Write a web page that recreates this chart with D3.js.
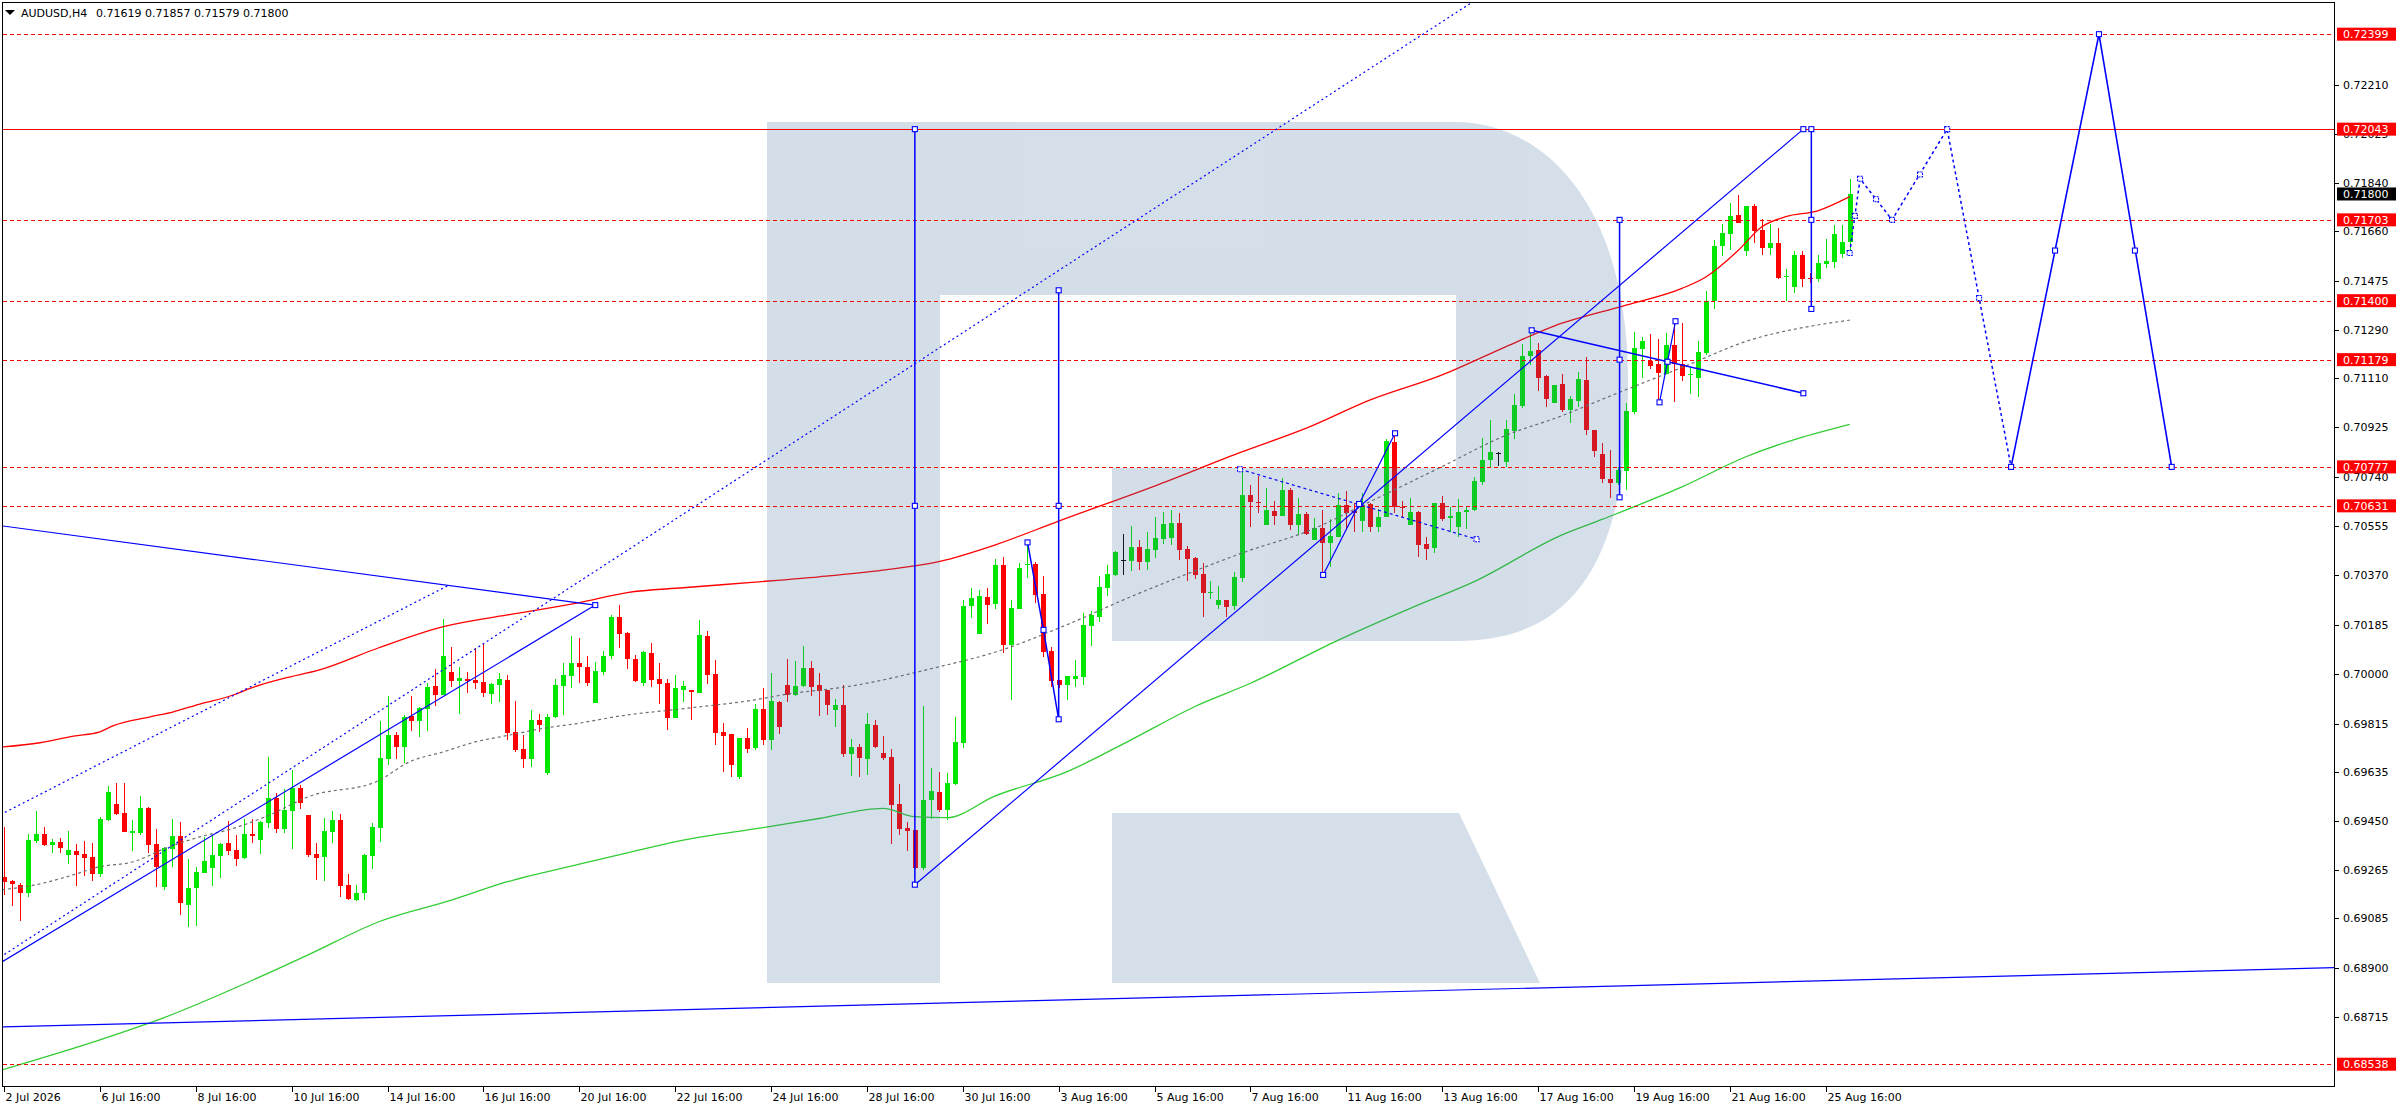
<!DOCTYPE html>
<html><head><meta charset="utf-8">
<script src="https://cdn.jsdelivr.net/npm/d3@7"></script>
<style>body{margin:0;background:#fff;}svg{display:block;}text{font-family:"DejaVu Sans",Verdana,sans-serif;}</style>
</head><body><svg id="c" width="2396" height="1110"></svg>
<script>
// ---------------- DATA ----------------
const symbolTitle = "AUDUSD,H4";
const headerOHLC = "0.71619 0.71857 0.71579 0.71800";
const openVals=[0.69240,0.69224,0.69209,0.69178,0.69376,0.69401,0.69359,0.69371,0.69322,0.69337,
0.69326,0.69316,0.69251,0.69453,0.69513,0.69479,0.69406,0.69403,0.69499,0.69363,
0.69203,0.69343,0.69393,0.69134,0.69199,0.69256,0.69274,0.69319,0.69367,0.69341,
0.69312,0.69401,0.69378,0.69443,0.69536,0.69418,0.69488,0.69573,0.69472,0.69326,
0.69316,0.69409,0.69453,0.69209,0.69153,0.69178,0.69319,0.69424,0.69683,0.69772,
0.69728,0.69844,0.69824,0.69871,0.69956,0.69923,0.70008,0.69976,0.69982,0.69978,
0.69971,0.69927,0.69959,0.69978,0.69782,0.69719,0.69683,0.69827,0.69631,0.69838,
0.69957,0.69993,0.70041,0.70026,0.69893,0.70009,0.70067,0.70213,0.70153,0.70057,
0.69968,0.70079,0.69982,0.69967,0.69837,0.69942,0.69941,0.69931,0.70143,0.70001,
0.69783,0.69776,0.69613,0.69761,0.69724,0.69869,0.69754,0.69896,0.69959,0.69922,
0.69956,0.70023,0.69959,0.69941,0.69867,0.69884,0.69702,0.69726,0.69683,0.69809,
0.69704,0.69689,0.69513,0.69423,0.69416,0.69274,0.69528,0.69558,0.69491,0.69588,
0.69743,0.70256,0.70152,0.70289,0.70263,0.70409,0.70111,0.70246,0.70408,0.70414,
0.70301,0.70087,0.69977,0.69961,0.69982,0.69991,0.70181,0.70216,0.70324,0.70373,
0.70427,0.70424,0.70477,0.70421,0.70466,0.70508,0.70512,0.70566,0.70469,0.70436,
0.70376,0.70303,0.70261,0.70278,0.70256,0.70362,0.70672,0.70647,0.70559,0.70612,
0.70593,0.70691,0.70559,0.70601,0.70503,0.70548,0.70493,0.70516,0.70633,0.70611,
0.70576,0.70638,0.70553,0.70588,0.70869,0.70628,0.70559,0.70608,0.70487,0.70474,
0.70641,0.70587,0.70553,0.70607,0.70616,0.70722,0.70801,0.70828,0.70797,0.70913,
0.71006,0.71193,0.71216,0.71116,0.71018,0.71087,0.70992,0.71025,0.71102,0.70915,
0.70825,0.70733,0.70717,0.70762,0.70983,0.71218,0.71173,0.71162,0.71127,0.71233,
0.71162,0.71120,0.71112,0.71205,0.71400,0.71605,0.71650,0.71721,0.71587,0.71755,
0.71665,0.71598,0.71616,0.71487,0.71452,0.71573,0.71485,0.71480,0.71536,0.71546,
0.71576,0.71619];
const highVals=[0.69428,0.69228,0.69219,0.69401,0.69487,0.69428,0.69381,0.69386,0.69413,0.69363,
0.69374,0.69366,0.69463,0.69581,0.69592,0.69592,0.69453,0.69543,0.69501,0.69419,
0.69351,0.69457,0.69446,0.69307,0.69278,0.69391,0.69396,0.69368,0.69448,0.69397,
0.69459,0.69459,0.69449,0.69689,0.69553,0.69568,0.69641,0.69583,0.69472,0.69369,
0.69462,0.69487,0.69476,0.69251,0.69209,0.69326,0.69441,0.69824,0.69918,0.69783,
0.69847,0.69918,0.69878,0.69968,0.70018,0.70206,0.70101,0.70026,0.70008,0.70097,
0.70117,0.69968,0.70003,0.69996,0.69899,0.69771,0.69866,0.69851,0.69851,0.69983,
0.70042,0.70142,0.70136,0.70068,0.70044,0.70087,0.70223,0.70261,0.70159,0.70072,
0.70087,0.70117,0.70042,0.69981,0.69997,0.69974,0.69941,0.70203,0.70162,0.70053,
0.69818,0.69776,0.69761,0.69798,0.69888,0.69948,0.70004,0.69899,0.70057,0.70049,
0.70106,0.70049,0.70004,0.69941,0.69907,0.69959,0.69757,0.69738,0.69854,0.69828,
0.69768,0.69719,0.69588,0.69446,0.69416,0.69882,0.69648,0.69632,0.69628,0.69841,
0.70278,0.70323,0.70316,0.70323,0.70432,0.70439,0.70277,0.70418,0.70491,0.70421,
0.70368,0.70102,0.69978,0.69994,0.70053,0.70228,0.70237,0.70368,0.70409,0.70463,
0.70526,0.70556,0.70503,0.70533,0.70590,0.70609,0.70615,0.70603,0.70481,0.70441,
0.70417,0.70349,0.70332,0.70278,0.70382,0.70772,0.70709,0.70744,0.70697,0.70649,
0.70734,0.70697,0.70661,0.70607,0.70584,0.70616,0.70582,0.70678,0.70687,0.70643,
0.70681,0.70641,0.70619,0.70882,0.70897,0.70649,0.70659,0.70612,0.70513,0.70641,
0.70668,0.70628,0.70656,0.70628,0.70741,0.70887,0.70953,0.70834,0.70951,0.71051,
0.71238,0.71278,0.71241,0.71122,0.71084,0.71127,0.71042,0.71133,0.71190,0.70915,
0.70865,0.70840,0.70777,0.71017,0.71283,0.71265,0.71275,0.71256,0.71280,0.71322,
0.71317,0.71150,0.71248,0.71436,0.71627,0.71687,0.71767,0.71796,0.71755,0.71762,
0.71708,0.71687,0.71671,0.71518,0.71586,0.71586,0.71502,0.71573,0.71631,0.71683,
0.71683,0.71857];
const lowVals=[0.69172,0.69132,0.69076,0.69166,0.69366,0.69357,0.69331,0.69331,0.69288,0.69206,
0.69244,0.69226,0.69241,0.69449,0.69472,0.69409,0.69338,0.69397,0.69328,0.69203,
0.69191,0.69278,0.69098,0.69053,0.69057,0.69253,0.69206,0.69237,0.69322,0.69282,
0.69307,0.69368,0.69326,0.69422,0.69406,0.69406,0.69346,0.69493,0.69313,0.69228,
0.69226,0.69368,0.69166,0.69153,0.69151,0.69153,0.69268,0.69372,0.69661,0.69683,
0.69668,0.69788,0.69766,0.69788,0.69882,0.69921,0.69951,0.69852,0.69931,0.69943,
0.69913,0.69889,0.69897,0.69752,0.69708,0.69649,0.69653,0.69782,0.69623,0.69837,
0.69848,0.69949,0.69968,0.69957,0.69893,0.69998,0.70056,0.70098,0.70018,0.69972,
0.69957,0.69953,0.69888,0.69792,0.69837,0.69897,0.69828,0.69931,0.69964,0.69736,
0.69634,0.69613,0.69606,0.69703,0.69717,0.69736,0.69717,0.69777,0.69897,0.69919,
0.69953,0.69919,0.69844,0.69848,0.69803,0.69691,0.69619,0.69616,0.69623,0.69724,
0.69679,0.69364,0.69398,0.69338,0.69271,0.69266,0.69459,0.69483,0.69453,0.69584,
0.69723,0.70212,0.70152,0.70189,0.70246,0.70081,0.69903,0.70246,0.70362,0.70266,
0.70066,0.69953,0.69947,0.69903,0.69953,0.69959,0.70106,0.70196,0.70294,0.70368,
0.70372,0.70387,0.70391,0.70391,0.70437,0.70488,0.70484,0.70428,0.70349,0.70358,
0.70216,0.70282,0.70246,0.70213,0.70241,0.70347,0.70553,0.70603,0.70559,0.70558,
0.70593,0.70541,0.70522,0.70522,0.70503,0.70376,0.70403,0.70513,0.70541,0.70532,
0.70534,0.70534,0.70534,0.70588,0.70606,0.70591,0.70559,0.70441,0.70428,0.70453,
0.70576,0.70534,0.70516,0.70543,0.70613,0.70709,0.70778,0.70782,0.70778,0.70881,
0.70999,0.71159,0.71063,0.71001,0.71018,0.70983,0.70943,0.71002,0.70895,0.70815,
0.70715,0.70662,0.70708,0.70690,0.70977,0.71112,0.71143,0.71018,0.71127,0.71021,
0.71100,0.71050,0.71040,0.71196,0.71368,0.71567,0.71590,0.71690,0.71567,0.71615,
0.71571,0.71571,0.71480,0.71398,0.71427,0.71452,0.71465,0.71470,0.71523,0.71523,
0.71561,0.71579];
const closeVals=[0.69222,0.69212,0.69178,0.69378,0.69401,0.69359,0.69371,0.69349,0.69341,0.69322,
0.69312,0.69251,0.69458,0.69558,0.69476,0.69409,0.69412,0.69499,0.69359,0.69278,
0.69347,0.69393,0.69141,0.69197,0.69258,0.69299,0.69322,0.69363,0.69338,0.69308,
0.69401,0.69393,0.69446,0.69536,0.69418,0.69491,0.69573,0.69518,0.69322,0.69312,
0.69412,0.69453,0.69207,0.69157,0.69178,0.69322,0.69427,0.69686,0.69772,0.69728,
0.69841,0.69824,0.69873,0.69952,0.69923,0.70068,0.69976,0.69986,0.69976,0.69966,
0.69931,0.69962,0.69982,0.69781,0.69717,0.69683,0.69827,0.69811,0.69838,0.69959,
0.69996,0.70041,0.70026,0.69968,0.70012,0.70067,0.70213,0.70152,0.70058,0.69976,
0.70083,0.69979,0.69964,0.69837,0.69948,0.69956,0.69934,0.70147,0.69998,0.69781,
0.69769,0.69661,0.69761,0.69721,0.69869,0.69754,0.69899,0.69803,0.69922,0.69956,
0.70023,0.69953,0.69938,0.69886,0.69884,0.69702,0.69726,0.69687,0.69813,0.69728,
0.69687,0.69511,0.69421,0.69413,0.69274,0.69528,0.69562,0.69491,0.69591,0.69746,
0.70256,0.70284,0.70293,0.70261,0.70409,0.70111,0.70248,0.70398,0.70414,0.70298,
0.70083,0.69976,0.69961,0.69994,0.69994,0.70184,0.70221,0.70327,0.70376,0.70458,
0.70427,0.70477,0.70421,0.70468,0.70511,0.70563,0.70566,0.70466,0.70432,0.70373,
0.70306,0.70309,0.70278,0.70253,0.70364,0.70672,0.70647,0.70642,0.70616,0.70593,
0.70691,0.70559,0.70601,0.70526,0.70548,0.70493,0.70519,0.70633,0.70603,0.70606,
0.70634,0.70553,0.70588,0.70874,0.70626,0.70622,0.70608,0.70484,0.70471,0.70641,
0.70583,0.70593,0.70608,0.70616,0.70724,0.70803,0.70834,0.70828,0.70919,0.71009,
0.71193,0.71213,0.71112,0.71031,0.71084,0.70992,0.71030,0.71106,0.70917,0.70837,
0.70733,0.70717,0.70767,0.70987,0.71221,0.71248,0.71156,0.71130,0.71233,0.71162,
0.71118,0.71127,0.71207,0.71400,0.71605,0.71655,0.71717,0.71692,0.71755,0.71662,
0.71598,0.71615,0.71486,0.71492,0.71573,0.71481,0.71480,0.71540,0.71550,0.71650,
0.71620,0.71800];

// x-axis ticks (bar index and label)
const xTickBars=[0,12,24,36,48,60,72,84,96,108,120,132,144,156,168,180,192,204,216,228];
const xTickLabels=["2 Jul 2026","6 Jul 16:00","8 Jul 16:00","10 Jul 16:00","14 Jul 16:00","16 Jul 16:00","20 Jul 16:00","22 Jul 16:00","24 Jul 16:00","28 Jul 16:00","30 Jul 16:00","3 Aug 16:00","5 Aug 16:00","7 Aug 16:00","11 Aug 16:00","13 Aug 16:00","17 Aug 16:00","19 Aug 16:00","21 Aug 16:00","25 Aug 16:00"];
// price axis tick labels
const yTickLabels=["0.72210","0.72025","0.71840","0.71660","0.71475","0.71290","0.71110","0.70925","0.70740","0.70555","0.70370","0.70185","0.70000","0.69815","0.69635","0.69450","0.69265","0.69085","0.68900","0.68715"];
// horizontal levels
const levelValues=[0.72399,0.72043,0.71703,0.71400,0.71179,0.70777,0.70631,0.68538];
const levelSolid=[false,true,false,false,false,false,false,false];
const currentPrice=0.71800;

// moving averages [bar, value]
const maRed=[[-1,0.69725],[4.5,0.69743],[8.7,0.69768],[12,0.69784],[13.7,0.69807],[18.3,0.69840],[21.2,0.69859],[24.5,0.69888],[28.7,0.69922],[30.8,0.69947],[35,0.69984],[39.5,0.70016],[47,0.70100],[55,0.70178],[63,0.70222],[72,0.70268],[78,0.70306],[85,0.70324],[94,0.70345],[102,0.70365],[110,0.70390],[117,0.70422],[124,0.70484],[132,0.70574],[144,0.70705],[155,0.70834],[163,0.70922],[171,0.71028],[180,0.71122],[188,0.71228],[194,0.71305],[203,0.71383],[210,0.71446],[213,0.71489],[217,0.71587],[220,0.71677],[223,0.71715],[227,0.71737],[231,0.71790]];
const maGreen=[[-1,0.68510],[12,0.68629],[19,0.68701],[38,0.68947],[47,0.69073],[56,0.69153],[63,0.69222],[72,0.69288],[78,0.69330],[85,0.69378],[95,0.69425],[102,0.69459],[110,0.69497],[114,0.69466],[118,0.69462],[124,0.69543],[133,0.69634],[141,0.69753],[149,0.69878],[156,0.69966],[167,0.70128],[176,0.70247],[184,0.70347],[195,0.70522],[200,0.70580],[210,0.70702],[218,0.70815],[231,0.70936]];
const maGray=[[-1,0.69190],[3.7,0.69209],[7.8,0.69240],[12,0.69278],[16.2,0.69297],[20.4,0.69350],[24.5,0.69390],[28.7,0.69422],[32.9,0.69468],[38.3,0.69543],[46.6,0.69597],[50.8,0.69672],[55,0.69709],[59.1,0.69747],[63.3,0.69772],[67.5,0.69797],[71.7,0.69815],[77.5,0.69845],[85.4,0.69872],[93.8,0.69903],[98,0.69925],[106.3,0.69957],[116.5,0.70024],[124.2,0.70084],[132.6,0.70180],[141,0.70290],[149.3,0.70390],[155.5,0.70460],[163,0.70534],[171.4,0.70653],[179.7,0.70774],[188.1,0.70897],[194.2,0.70960],[201.8,0.71052],[210.2,0.71152],[218.5,0.71252],[226.8,0.71308],[231,0.71327]];

// drawn objects [bar, price]
const upperChannelDashed=[[-1,0.69465],[55.5,0.70331]];
const lowerChannelDashed=[[-1,0.68929],[185,0.72543]];
const lowerChannelSolid=[[-1,0.68908],[74,0.70259]];
const fallingLine1=[[-1,0.70559],[74,0.70259]];
const baseLine=[[-1,0.68677],[292,0.68900]];
const risingLine=[[114,0.69211],[225.2,0.72043]];
const vertical1=[[114,0.72043],[114,0.69211]];
const vertical2=[[132,0.71439],[132,0.69831]];
const vertical3=[[202.2,0.71703],[202.2,0.70663]];
const vertical4=[[226.2,0.72043],[226.2,0.71369]];
const zigzag1=[[128.1,0.70494],[130.1,0.70166],[132,0.69831]];
const zigzag2=[[165.1,0.70372],[174.1,0.70903]];
const zigzag3=[[207.2,0.71019],[209.2,0.71323]];
const fallingDashed=[[154.7,0.70768],[184.3,0.70506]];
const fallingLine2=[[191.2,0.71289],[225.2,0.71053]];
const forecastDotted=[[231,0.71579],[232.3,0.71857],[236.3,0.71703],[243.2,0.72043],[251.2,0.70777]];
const forecastSolid=[[251.2,0.70777],[262.2,0.72399],[271.3,0.70777]];
const solidMarkers=[[74,0.70259],[114,0.72043],[114,0.70631],[114,0.69211],[132,0.71439],[132,0.70631],[132,0.69831],[128.1,0.70494],[130.1,0.70166],[165.1,0.70372],[169.6,0.70638],[174.1,0.70903],[191.2,0.71289],[208.2,0.71171],[225.2,0.71053],[207.2,0.71019],[209.2,0.71323],[202.2,0.71703],[202.2,0.71179],[202.2,0.70663],[225.2,0.72043],[226.2,0.72043],[226.2,0.71703],[226.2,0.71369],[251.2,0.70777],[256.7,0.71588],[262.2,0.72399],[266.7,0.71588],[271.3,0.70777]];
const dashedMarkers=[[154.7,0.70768],[184.3,0.70506],[231,0.71579],[231.65,0.71718],[232.3,0.71857],[234.3,0.71780],[236.3,0.71703],[239.8,0.71873],[243.2,0.72043],[247.2,0.71410]];

// ---------------- DRAW ----------------
const W=2396,H=1110;
const plotR=2334.5, plotB=1086.5;
const svg=d3.select('#c');
svg.append('rect').attr('width',W).attr('height',H).attr('fill','#fff');
const x=d3.scaleLinear().domain([0,291]).range([4,4+7.99*291]);
const y=d3.scaleLinear().domain([0.68715,0.72210]).range([1017,84.6]);

svg.append('defs').append('clipPath').attr('id','pc').append('rect')
  .attr('x',3).attr('y',3).attr('width',plotR-3.5).attr('height',plotB-3.5);
const plot=svg.append('g').attr('clip-path','url(#pc)');

const BULL='#00e600', BEAR='#ff0000';
const bars=d3.range(openVals.length);
const col=i=>closeVals[i]>openVals[i]?BULL:(closeVals[i]<openVals[i]?BEAR:'#000');
const gC=plot.append('g').attr('shape-rendering','crispEdges');
gC.selectAll('line').data(bars).join('line')
  .attr('x1',i=>Math.round(x(i))+0.5).attr('x2',i=>Math.round(x(i))+0.5)
  .attr('y1',i=>y(highVals[i])).attr('y2',i=>y(lowVals[i]))
  .attr('stroke',col).attr('stroke-width',1);
gC.selectAll('rect').data(bars).join('rect')
  .attr('x',i=>Math.round(x(i))-2).attr('width',5)
  .attr('y',i=>y(Math.max(openVals[i],closeVals[i])))
  .attr('height',i=>Math.max(1,Math.abs(y(openVals[i])-y(closeVals[i]))))
  .attr('fill',col);

// moving averages
const ln=d3.line().x(d=>x(d[0])).y(d=>y(d[1])).curve(d3.curveMonotoneX);
plot.append('path').datum(maGreen).attr('d',ln).attr('fill','none').attr('stroke','#32cd32').attr('stroke-width',1.3);
plot.append('path').datum(maGray).attr('d',ln).attr('fill','none').attr('stroke','#6e6e6e').attr('stroke-width',1.2).attr('stroke-dasharray','3,3');
plot.append('path').datum(maRed).attr('d',ln).attr('fill','none').attr('stroke','#ff0000').attr('stroke-width',1.3);

// watermark logo (semi-transparent overlay)
const logo=plot.append('g').attr('opacity',0.22).attr('fill','rgb(64,110,159)');
logo.append('rect').attr('x',767).attr('y',122).attr('width',173).attr('height',861);
logo.append('rect').attr('x',940).attr('y',122).attr('width',517).attr('height',173);
logo.append('rect').attr('x',1112).attr('y',468).attr('width',345).attr('height',173);
logo.append('path').attr('d','M1456,122 C1540,122 1628,200 1628,381 C1628,560 1575,641 1456,641 Z');
logo.append('path').attr('d','M1112,813 L1459,813 L1540,983 L1112,983 Z');

// horizontal levels
const gL=plot.append('g').attr('shape-rendering','crispEdges');
levelValues.forEach((v,k)=>{
  const yy=Math.round(y(v))+0.5;
  gL.append('line').attr('x1',3).attr('x2',plotR).attr('y1',yy).attr('y2',yy)
    .attr('stroke','#ff0000').attr('stroke-width',1)
    .attr('stroke-dasharray',levelSolid[k]?null:'4,3');
});

// blue objects
const lnL=d3.line().x(d=>x(d[0])).y(d=>y(d[1]));
const BLUE='#0000ff';
function obj(pts,dash,w){plot.append('path').datum(pts).attr('d',lnL).attr('fill','none')
  .attr('stroke',BLUE).attr('stroke-width',w||1.2).attr('stroke-dasharray',dash||null);}
obj(upperChannelDashed,'2,3');
obj(lowerChannelDashed,'2,3');
obj(lowerChannelSolid);
obj(fallingLine1);
obj(baseLine);
obj(risingLine);
obj(vertical1,null,1.5);obj(vertical2,null,1.5);obj(vertical3,null,1.5);obj(vertical4,null,1.5);
obj(zigzag1,null,1.5);obj(zigzag2);obj(zigzag3);
obj(fallingDashed,'3,3');
obj(fallingLine2,null,1.5);
obj(forecastDotted,'3,3',1.5);
obj(forecastSolid,null,1.6);
function marks(pts,dash){plot.append('g').selectAll('rect').data(pts).join('rect')
  .attr('x',d=>x(d[0])-2.5).attr('y',d=>y(d[1])-2.5).attr('width',5).attr('height',5)
  .attr('fill','#fff').attr('stroke',BLUE).attr('stroke-width',1.1).attr('stroke-dasharray',dash||null);}
marks(solidMarkers);
marks(dashedMarkers,'2,1');

// frame
svg.append('rect').attr('x',2.5).attr('y',2.5).attr('width',plotR-2.5).attr('height',plotB-2.5)
  .attr('fill','none').attr('stroke','#000').attr('stroke-width',1).attr('shape-rendering','crispEdges');

// header
svg.append('path').attr('d','M5,10 L15,10 L10,15 Z').attr('fill','#000');
svg.append('text').attr('x',21).attr('y',16.5).attr('font-size',11).attr('fill','#000').text(symbolTitle);
svg.append('text').attr('x',96).attr('y',16.5).attr('font-size',11).attr('fill','#000').text(headerOHLC);

// price axis
const gA=svg.append('g');
yTickLabels.forEach(t=>{
  const yy=Math.round(y(+t))+0.5;
  gA.append('line').attr('x1',plotR).attr('x2',plotR+4).attr('y1',yy).attr('y2',yy).attr('stroke','#000').attr('shape-rendering','crispEdges');
  gA.append('text').attr('x',2343).attr('y',yy).attr('dy','0.36em').attr('font-size',11).attr('fill','#000').text(t);
});
levelValues.forEach(v=>{
  const yy=y(v);
  gA.append('rect').attr('x',2337).attr('y',yy-6.5).attr('width',59).attr('height',13).attr('fill','#ff0000');
  gA.append('text').attr('x',2343).attr('y',yy).attr('dy','0.36em').attr('font-size',11).attr('fill','#fff').text(v.toFixed(5));
});
{
  const yy=y(currentPrice);
  gA.append('rect').attr('x',2337).attr('y',yy-6.5).attr('width',59).attr('height',13).attr('fill','#000');
  gA.append('text').attr('x',2343).attr('y',yy).attr('dy','0.36em').attr('font-size',11).attr('fill','#fff').text(currentPrice.toFixed(5));
}

// time axis
const gX=svg.append('g');
xTickBars.forEach((b,k)=>{
  const xx=Math.round(x(b))+0.5;
  gX.append('line').attr('x1',xx).attr('x2',xx).attr('y1',plotB).attr('y2',plotB+5).attr('stroke','#000').attr('shape-rendering','crispEdges');
  gX.append('text').attr('x',xx+1).attr('y',1101).attr('font-size',11).attr('fill','#000').text(xTickLabels[k]);
});
</script></body></html>
